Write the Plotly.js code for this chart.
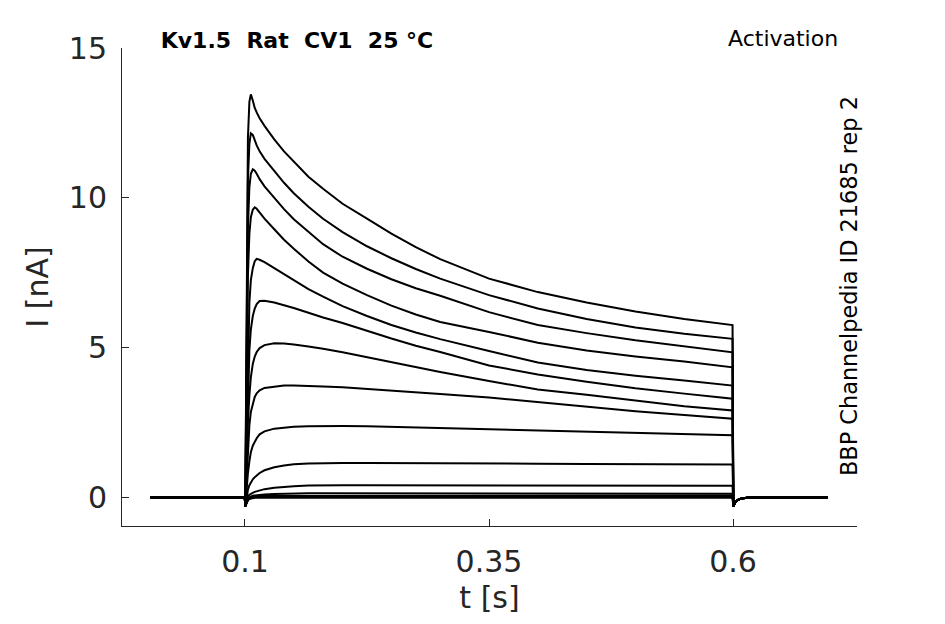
<!DOCTYPE html>
<html>
<head>
<meta charset="utf-8">
<script src="https://cdn.plot.ly/plotly-3.0.1.min.js"></script>
<style>html,body{margin:0;padding:0;background:#fff;}#chart{width:945px;height:624px;}</style>
</head>
<body>
<div id="chart"></div>
<script>
// ---- data ----
const chartTitle = 'Kv1.5\u00A0\u00A0Rat\u00A0\u00A0CV1\u00A0\u00A025\u00A0°C';
const protocolLabel = 'Activation';
const sourceLabel = 'BBP Channelpedia ID 21685 rep 2';
const xTickVals = [0.1, 0.35, 0.6];
const xTickText = ['0.1', '0.35', '0.6'];
const yTickVals = [0, 5, 10, 15];
const yTickText = ['0', '5', '10', '15'];

// time points (s): holding, step, tail
const tPre = [0.003, 0.0998, 0.1003];
const iPre = [0, 0, -0.3];
const tStep = [0.1015, 0.103, 0.1045, 0.106, 0.108, 0.11, 0.112, 0.115, 0.12, 0.13, 0.14, 0.15, 0.165, 0.18, 0.2, 0.225, 0.25, 0.275, 0.3, 0.35, 0.4, 0.45, 0.5, 0.55, 0.5995];
const tPost = [0.6003, 0.6015, 0.603, 0.606, 0.61, 0.62, 0.697];
const iPost = [-0.3, -0.2, -0.13, -0.07, -0.03, 0, 0];

// current (nA) of each sweep during the step, at tStep
const sweep01 = [7.0, 12.0, 13.2, 13.45, 13.25, 13.0, 12.85, 12.65, 12.4, 11.95, 11.55, 11.2, 10.7, 10.3, 9.8, 9.3, 8.8, 8.35, 7.95, 7.3, 6.85, 6.5, 6.2, 5.95, 5.75];
const sweep02 = [5.5, 10.6, 11.8, 12.15, 12.1, 11.9, 11.75, 11.55, 11.3, 10.9, 10.5, 10.15, 9.7, 9.3, 8.85, 8.38, 7.98, 7.62, 7.3, 6.75, 6.3, 5.95, 5.67, 5.46, 5.29];
const sweep03 = [4.2, 9.0, 10.35, 10.8, 10.95, 10.9, 10.8, 10.62, 10.38, 10.0, 9.62, 9.28, 8.85, 8.45, 8.03, 7.63, 7.28, 6.98, 6.73, 6.18, 5.75, 5.48, 5.24, 5.03, 4.84];
const sweep04 = [3.0, 7.4, 8.8, 9.35, 9.6, 9.68, 9.63, 9.5, 9.3, 8.95, 8.6, 8.3, 7.87, 7.5, 7.13, 6.75, 6.4, 6.1, 5.85, 5.52, 5.16, 4.9, 4.7, 4.53, 4.34];
const sweep05 = [2.0, 5.0, 6.5, 7.25, 7.65, 7.88, 7.96, 7.93, 7.85, 7.65, 7.45, 7.25, 6.95, 6.7, 6.38, 6.05, 5.75, 5.5, 5.28, 4.88, 4.5, 4.25, 4.06, 3.9, 3.73];
const sweep06 = [1.5, 3.7, 4.9, 5.6, 6.05, 6.3, 6.45, 6.55, 6.56, 6.5, 6.42, 6.32, 6.16, 6.0, 5.82, 5.55, 5.3, 5.06, 4.85, 4.4, 4.1, 3.86, 3.64, 3.46, 3.29];
const sweep07 = [1.0, 2.5, 3.4, 4.0, 4.45, 4.7, 4.85, 4.98, 5.08, 5.14, 5.13, 5.1, 5.03, 4.96, 4.84, 4.67, 4.5, 4.33, 4.18, 3.88, 3.6, 3.42, 3.22, 3.04, 2.9];
const sweep08 = [0.6, 1.7, 2.4, 2.85, 3.15, 3.35, 3.47, 3.57, 3.65, 3.7, 3.73, 3.73, 3.72, 3.7, 3.67, 3.62, 3.56, 3.5, 3.45, 3.33, 3.17, 3.02, 2.87, 2.75, 2.62];
const sweep09 = [0.25, 0.8, 1.2, 1.5, 1.72, 1.87, 1.97, 2.1, 2.2, 2.29, 2.33, 2.35, 2.37, 2.38, 2.38, 2.37, 2.35, 2.33, 2.32, 2.29, 2.25, 2.2, 2.17, 2.12, 2.07];
const sweep10 = [0.0, 0.25, 0.4, 0.5, 0.6, 0.67, 0.73, 0.81, 0.9, 1.0, 1.06, 1.1, 1.13, 1.14, 1.14, 1.14, 1.14, 1.13, 1.13, 1.13, 1.12, 1.11, 1.1, 1.1, 1.09];
const sweep11 = [-0.1, 0.03, 0.08, 0.12, 0.15, 0.18, 0.2, 0.23, 0.27, 0.32, 0.35, 0.37, 0.39, 0.4, 0.4, 0.4, 0.4, 0.4, 0.4, 0.4, 0.39, 0.39, 0.39, 0.38, 0.38];
const sweep12 = [-0.15, -0.05, 0.0, 0.03, 0.05, 0.06, 0.07, 0.08, 0.09, 0.11, 0.12, 0.12, 0.13, 0.13, 0.13, 0.13, 0.13, 0.13, 0.13, 0.13, 0.13, 0.13, 0.12, 0.12, 0.12];
const sweep13 = [-0.18, -0.07, -0.02, 0.0, 0.02, 0.03, 0.04, 0.04, 0.05, 0.05, 0.06, 0.06, 0.06, 0.06, 0.06, 0.06, 0.06, 0.06, 0.06, 0.06, 0.06, 0.06, 0.06, 0.06, 0.06];
const sweep14 = [-0.2, -0.09, -0.04, -0.02, 0.0, 0.01, 0.01, 0.02, 0.02, 0.02, 0.02, 0.02, 0.02, 0.02, 0.02, 0.02, 0.02, 0.02, 0.02, 0.02, 0.02, 0.02, 0.02, 0.02, 0.02];
const sweep15 = [-0.22, -0.1, -0.06, -0.04, -0.03, -0.02, -0.02, -0.02, -0.02, -0.02, -0.02, -0.02, -0.02, -0.02, -0.02, -0.02, -0.02, -0.02, -0.02, -0.02, -0.02, -0.02, -0.02, -0.02, -0.02];

const sweeps = [sweep01, sweep02, sweep03, sweep04, sweep05, sweep06, sweep07, sweep08,
                sweep09, sweep10, sweep11, sweep12, sweep13, sweep14, sweep15];

const FONT = 'DejaVu Sans, Liberation Sans, sans-serif';
const AX = '#262626';

const traces = sweeps.map(function (s) {
  return {
    type: 'scatter', mode: 'lines',
    x: tPre.concat(tStep, tPost),
    y: iPre.concat(s, iPost),
    line: {color: '#000000', width: 2},
    hoverinfo: 'skip', showlegend: false
  };
});

const W = 945, H = 624, L = 122, R = 88, T = 48, B = 98;
const pw = W - L - R, ph = H - T - B;
function px(x) { return (x - L) / pw; }
function py(y) { return (H - B - y) / ph; }

const layout = {
  width: W, height: H,
  margin: {l: L, r: R, t: T, b: B, pad: 0},
  paper_bgcolor: '#ffffff', plot_bgcolor: '#ffffff',
  showlegend: false,
  font: {family: FONT, color: AX},
  title: {
    text: '<b>' + chartTitle + '</b>',
    xref: 'paper', x: px(297), xanchor: 'center',
    yref: 'container', y: 1 - 40 / H, yanchor: 'middle',
    font: {family: FONT, size: 22, color: '#000000'}
  },
  xaxis: {
    range: [-0.026, 0.727], autorange: false,
    tickmode: 'array', tickvals: xTickVals, ticktext: xTickText,
    ticks: 'inside', ticklen: 7, tickwidth: 1, tickcolor: AX,
    showline: true, linecolor: AX, linewidth: 1, mirror: false,
    showgrid: false, zeroline: false,
    tickfont: {family: FONT, size: 30, color: AX},
    ticklabelstandoff: 9,
    title: {text: 't [s]', font: {family: FONT, size: 30, color: AX}, standoff: 8}
  },
  yaxis: {
    range: [-0.96, 15], autorange: false,
    tickmode: 'array', tickvals: yTickVals, ticktext: yTickText,
    ticks: 'inside', ticklen: 7, tickwidth: 1, tickcolor: AX,
    showline: true, linecolor: AX, linewidth: 1, mirror: false,
    showgrid: false, zeroline: false,
    tickfont: {family: FONT, size: 30, color: AX},
    ticklabelstandoff: 8,
    title: {text: 'I [nA]', font: {family: FONT, size: 30, color: AX}, standoff: 11}
  },
  annotations: [
    {text: protocolLabel, xref: 'paper', yref: 'paper', x: px(783), y: py(38),
     xanchor: 'center', yanchor: 'middle', showarrow: false,
     font: {family: FONT, size: 22, color: '#000000'}},
    {text: sourceLabel, xref: 'paper', yref: 'paper', x: px(849), y: py(286),
     xanchor: 'center', yanchor: 'middle', showarrow: false, textangle: -90,
     font: {family: FONT, size: 22.4, color: '#000000'}}
  ]
};

Plotly.newPlot('chart', traces, layout, {displayModeBar: false, staticPlot: true});
</script>
</body>
</html>
